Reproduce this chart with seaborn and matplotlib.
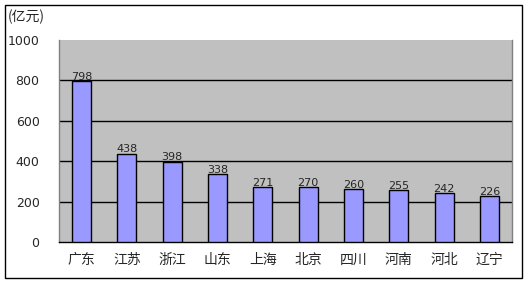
import matplotlib
matplotlib.use("Agg")
import matplotlib.pyplot as plt
import seaborn as sns
import pandas as pd
from matplotlib.patches import Rectangle

provinces = ["广东", "江苏", "浙江", "山东", "上海", "北京", "四川", "河南", "河北", "辽宁"]
values = [798, 438, 398, 338, 271, 270, 260, 255, 242, 226]
y_ticks = [0, 200, 400, 600, 800, 1000]
unit_label = "(亿元)"

sns.set_theme(style="white")
plt.rcParams['font.family'] = ['Noto Sans CJK SC', 'DejaVu Sans']

df = pd.DataFrame({"province": provinces, "value": values})

fig = plt.figure(figsize=(5.28, 2.84), dpi=100)
ax = fig.add_axes([59/528, 1-242/284, (512-59)/528, (242-40)/284])
ax.set_facecolor("#C0C0C0")

sns.barplot(data=df, x="province", y="value", ax=ax, color="#9999FF",
            saturation=1, width=0.42, edgecolor="black", linewidth=1, zorder=3)

ax.set_ylim(0, 1000)
ax.set_yticks(y_ticks)
ax.set_yticklabels([str(t) for t in y_ticks], fontsize=9, family=['DejaVu Sans'])
ax.tick_params(axis='y', length=0, pad=14)
ax.tick_params(axis='x', length=0, pad=8, labelsize=10)
for t in y_ticks[1:-1]:
    ax.axhline(t, color="black", linewidth=1, zorder=1)
ax.set_xlabel("")
ax.set_ylabel("")

ax.spines["top"].set_visible(False)
ax.spines["right"].set_color("#808080")
ax.spines["left"].set_color("#808080")
ax.spines["bottom"].set_color("black")
for s in ["left", "right", "bottom"]:
    ax.spines[s].set_linewidth(1)

for i, v in enumerate(values):
    ax.text(i, v - 4, str(v), ha="center", va="bottom", fontsize=8,
            family=['DejaVu Sans'], zorder=4)

fig.text(8/528, 1-17/284, unit_label, fontsize=10, va="center", ha="left")

fig.patches.append(Rectangle((5/528, 1-278/284), (522-5)/528, (278-5)/284,
                             transform=fig.transFigure, fill=False,
                             edgecolor="black", linewidth=1))

fig.savefig("out.png", dpi=100)
